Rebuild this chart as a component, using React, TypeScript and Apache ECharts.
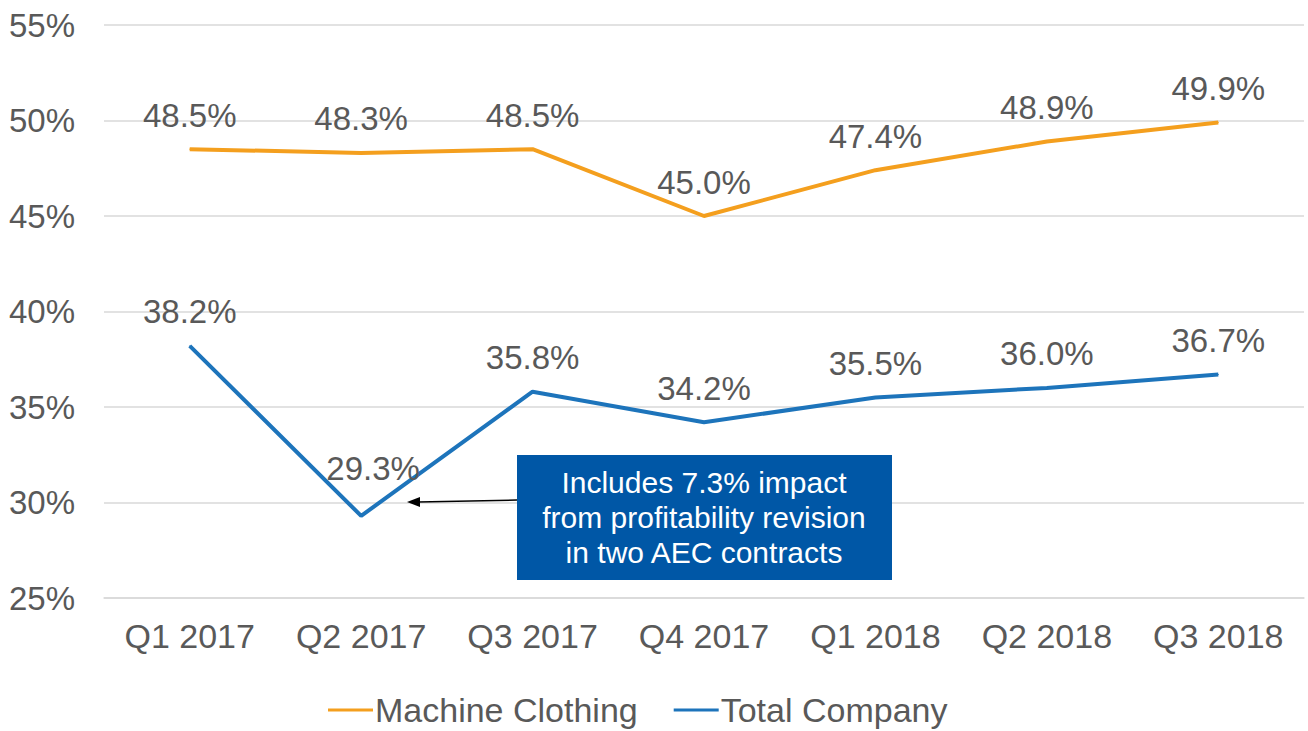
import React, { useEffect, useRef } from "react";
import * as echarts from "echarts";

const categories = ["Q1 2017", "Q2 2017", "Q3 2017", "Q4 2017", "Q1 2018", "Q2 2018", "Q3 2018"];
const machineClothing = [48.5, 48.3, 48.5, 45.0, 47.4, 48.9, 49.9];
const totalCompany = [38.2, 29.3, 35.8, 34.2, 35.5, 36.0, 36.7];
const seriesNames = ["Machine Clothing", "Total Company"];
const annotationLines = ["Includes 7.3% impact", "from profitability revision", "in two AEC contracts"];

const FONT = "'Liberation Sans', Arial, sans-serif";
const ORANGE = "#F49F1E";
const BLUE = "#1D74BB";
const TEXT = "#595959";

export default function App() {
  const ref = useRef<HTMLDivElement>(null);
  useEffect(() => {
    document.body.style.margin = "0";
    const chart = echarts.init(ref.current!, undefined, { renderer: "svg" });
    const labelBase = {
      show: true,
      position: "top" as const,
      distance: 17,
      fontSize: 33,
      fontFamily: FONT,
      color: TEXT,
      formatter: (p: any) => Number(p.value).toFixed(1) + "%",
    };
    chart.setOption({
      animation: false,
      backgroundColor: "#ffffff",
      grid: { left: 104, right: 4, top: 25, bottom: 133, containLabel: false },
      legend: {
        left: 328,
        top: 693,
        padding: 0,
        itemGap: 36,
        itemWidth: 45,
        itemHeight: 3,
        icon: "rect",
        textStyle: { fontSize: 34, fontFamily: FONT, color: TEXT, padding: [0, 0, 0, -3] },
        data: seriesNames,
      },
      xAxis: {
        type: "category",
        data: categories,
        boundaryGap: true,
        axisLine: { show: true, lineStyle: { color: "#d9d9d9", width: 1.5 } },
        axisTick: { show: false },
        axisLabel: { fontSize: 34, fontFamily: FONT, color: TEXT, margin: 21 },
      },
      yAxis: {
        type: "value",
        min: 25,
        max: 55,
        interval: 5,
        axisLine: { show: false },
        axisTick: { show: false },
        splitLine: { lineStyle: { color: "#d9d9d9", width: 1.5 } },
        axisLabel: {
          fontSize: 33,
          fontFamily: FONT,
          color: TEXT,
          margin: 29,
          formatter: "{value}%",
        },
      },
      series: [
        {
          name: seriesNames[0],
          type: "line",
          data: machineClothing,
          showSymbol: true,
          symbol: "circle",
          symbolSize: 1,
          lineStyle: { color: ORANGE, width: 4 },
          itemStyle: { color: ORANGE },
          label: labelBase,
        },
        {
          name: seriesNames[1],
          type: "line",
          data: totalCompany.map((v, i) =>
            i === 1 ? { value: v, label: { offset: [12, -13] } } : v
          ),
          showSymbol: true,
          symbol: "circle",
          symbolSize: 1,
          lineStyle: { color: BLUE, width: 4 },
          itemStyle: { color: BLUE },
          label: labelBase,
        },
      ],
      graphic: [
        {
          type: "line",
          shape: { x1: 517, y1: 500, x2: 418, y2: 502 },
          style: { stroke: "#000000", lineWidth: 1.5 },
          z: 10,
        },
        {
          type: "polygon",
          shape: { points: [[407, 502], [420, 497], [420, 507]] },
          style: { fill: "#000000" },
          z: 10,
        },
        {
          type: "rect",
          shape: { x: 517, y: 455, width: 375, height: 125 },
          style: { fill: "#0057A6" },
          z: 10,
        },
        {
          type: "text",
          x: 704,
          y: 517,
          style: {
            text: annotationLines.join("\n"),
            fill: "#ffffff",
            fontSize: 30,
            fontFamily: FONT,
            lineHeight: 35,
            align: "center",
            verticalAlign: "middle",
          },
          z: 11,
        },
      ],
    });
    return () => chart.dispose();
  }, []);
  return <div ref={ref} style={{ width: 1308, height: 731 }} />;
}
